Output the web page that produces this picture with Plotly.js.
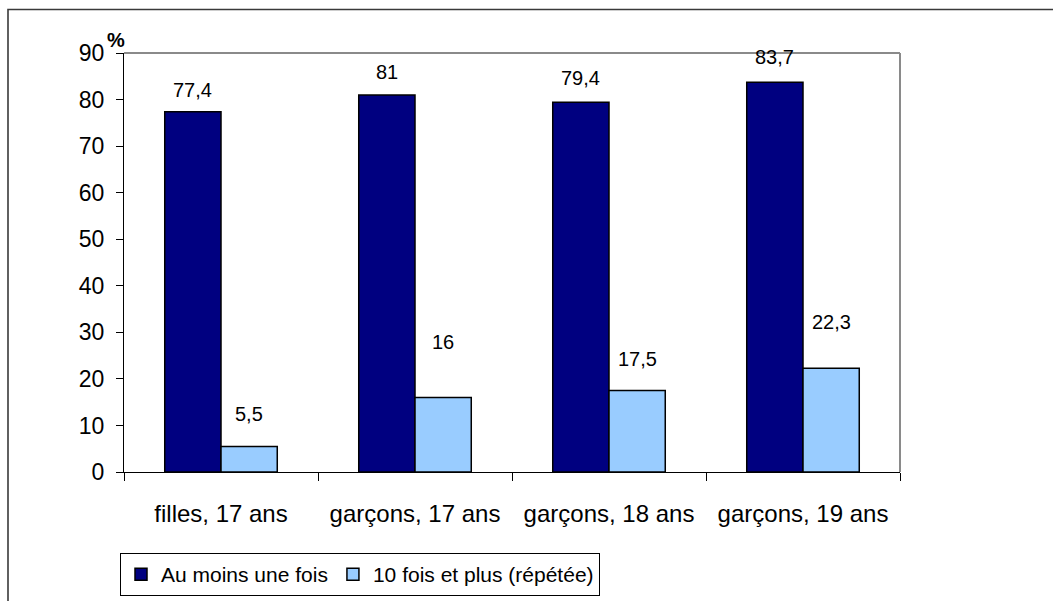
<!DOCTYPE html>
<html>
<head>
<meta charset="utf-8">
<script src="https://cdn.plot.ly/plotly-3.0.1.min.js"></script>
<style>
  html, body { margin: 0; padding: 0; background: #ffffff; }
  #chart { width: 1053px; height: 601px; }
</style>
</head>
<body>
<div id="chart"></div>
<script>
// Groups shown along the horizontal axis
const groups = ['filles, 17 ans', 'garçons, 17 ans', 'garçons, 18 ans', 'garçons, 19 ans'];

// Share (%) per group
const auMoinsUneFois = [77.4, 81, 79.4, 83.7];
const dixFoisEtPlus = [5.5, 16, 17.5, 22.3];

const seriesNames = ['Au moins une fois', '10 fois et plus (répétée)'];
const yTicks = [0, 10, 20, 30, 40, 50, 60, 70, 80, 90];

// Vertical lift (px) of each value label above its bar
const liftDark = [22, 23, 24, 25];
const liftLight = [32, 56, 32, 46];

const FONT = 'Liberation Sans, Arial, Helvetica, sans-serif';
const BARGAP = 0.42;
const half = (1 - BARGAP) / 4; // centre offset of each bar inside its group

// Plot area geometry (px)
const W = 1053, H = 601;
const M = { l: 124, r: 153, t: 53, b: 129, autoexpand: false };
const pw = W - M.l - M.r, ph = H - M.t - M.b;
const px = v => (v - M.l) / pw;
const py = v => (H - M.b - v) / ph;

const fmt = v => String(v).replace('.', ',');

const traces = [
  {
    type: 'bar', name: seriesNames[0], x: groups, y: auMoinsUneFois,
    marker: { color: '#000080', line: { color: '#000000', width: 1.5 } },
    hoverinfo: 'none'
  },
  {
    type: 'bar', name: seriesNames[1], x: groups, y: dixFoisEtPlus,
    marker: { color: '#99CCFF', line: { color: '#000000', width: 1.5 } },
    hoverinfo: 'none'
  }
];

const annotations = [];
auMoinsUneFois.forEach((v, i) => annotations.push({
  x: i - half, y: v, xref: 'x', yref: 'y', text: fmt(v), showarrow: false,
  yanchor: 'middle', yshift: liftDark[i], font: { family: FONT, size: 20, color: '#000' }
}));
dixFoisEtPlus.forEach((v, i) => annotations.push({
  x: i + half, y: v, xref: 'x', yref: 'y', text: fmt(v), showarrow: false,
  yanchor: 'middle', yshift: liftLight[i], font: { family: FONT, size: 20, color: '#000' }
}));
// unit marker at the top of the value axis
annotations.push({
  x: px(116), y: py(40), xref: 'paper', yref: 'paper', text: '<b>%</b>', showarrow: false,
  xanchor: 'center', yanchor: 'middle', font: { family: FONT, size: 20, color: '#000' }
});

const shapes = [
  // outer chart frame
  { type: 'rect', xref: 'paper', yref: 'paper', x0: px(8), x1: px(1070), y0: py(620), y1: py(9.5),
    line: { color: '#3a3a3a', width: 1.6 }, fillcolor: 'rgba(0,0,0,0)', layer: 'below' },
  // grey top and right edges of the plot area
  { type: 'line', xref: 'paper', yref: 'paper', x0: 0, x1: 1, y0: 1, y1: 1, line: { color: '#8a8a8a', width: 2 } },
  { type: 'line', xref: 'paper', yref: 'paper', x0: 1, x1: 1, y0: 0, y1: 1, line: { color: '#8a8a8a', width: 2 } }
];

const layout = {
  width: W, height: H,
  margin: M,
  paper_bgcolor: '#ffffff', plot_bgcolor: '#ffffff',
  font: { family: FONT, size: 23, color: '#000' },
  barmode: 'group', bargap: BARGAP, bargroupgap: 0,
  showlegend: true,
  legend: {
    orientation: 'h', x: px(120), y: py(553), xanchor: 'left', yanchor: 'top',
    bordercolor: '#000', borderwidth: 1, bgcolor: '#fff',
    font: { family: FONT, size: 21, color: '#000' },
    itemwidth: 30, traceorder: 'normal'
  },
  xaxis: {
    type: 'category', tickson: 'boundaries', ticks: 'outside', ticklen: 8, tickwidth: 1, tickcolor: '#000',
    showline: true, linecolor: '#000', linewidth: 1, showgrid: false, zeroline: false,
    ticklabelstandoff: 20, automargin: false,
    tickfont: { family: FONT, size: 24, color: '#000' }, fixedrange: true
  },
  yaxis: {
    range: [0, 90], tickvals: yTicks, ticktext: yTicks.map(String),
    ticks: 'outside', ticklen: 7, tickwidth: 1, tickcolor: '#000',
    showline: true, linecolor: '#000', linewidth: 1, showgrid: false, zeroline: false,
    ticklabelstandoff: 7, automargin: false,
    tickfont: { family: FONT, size: 23, color: '#000' }, fixedrange: true
  },
  annotations: annotations,
  shapes: shapes
};

Plotly.newPlot('chart', traces, layout, { displayModeBar: false, staticPlot: true });
</script>
</body>
</html>
